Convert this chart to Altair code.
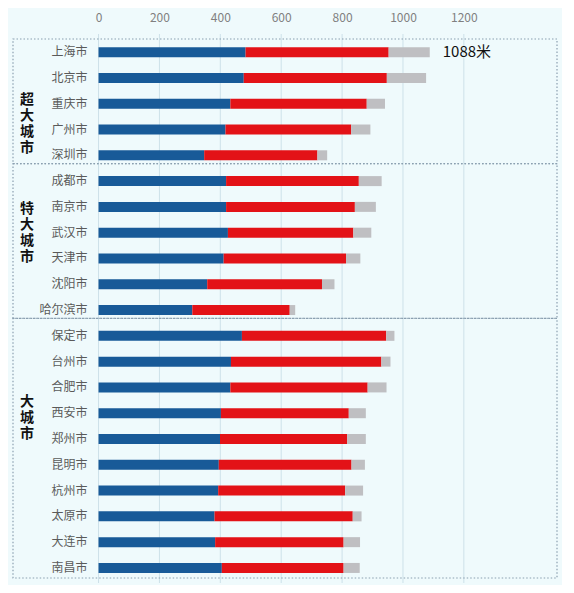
import altair as alt
import pandas as pd

FONT = "Noto Sans CJK SC"

cities = [
    "上海市", "北京市", "重庆市", "广州市", "深圳市",
    "成都市", "南京市", "武汉市", "天津市", "沈阳市", "哈尔滨市",
    "保定市", "台州市", "合肥市", "西安市", "郑州市",
    "昆明市", "杭州市", "太原市", "大连市", "南昌市",
]
groups = ["超大城市"] * 5 + ["特大城市"] * 6 + ["大城市"] * 10

# three stacked parts of each bar (blue, red, grey)
blue_part = [483, 477, 433, 417, 347, 419, 419, 425, 411, 357, 308,
             471, 435, 433, 402, 399, 395, 393, 381, 383, 405]
red_part = [470, 470, 448, 413, 372, 436, 423, 412, 402, 377, 320,
            474, 494, 451, 420, 418, 436, 417, 454, 422, 400]
grey_part = [135, 129, 60, 63, 32, 75, 69, 59, 47, 41, 18,
             27, 30, 62, 56, 61, 44, 59, 29, 54, 53]

segments = ["blue", "red", "grey"]
seg_colors = ["#185a98", "#e31217", "#bfbfc2"]
tick_values = [0, 200, 400, 600, 800, 1000, 1200]

top_label = "1088米"

# layout (row units)
X_DOMAIN = [-281, 1506]
Y_DOMAIN = [-0.51, 20.39]
# row of the first character of each vertical group label
group_label_row = {"超大城市": 1.85, "特大城市": 6.1, "大城市": 13.55}

rows = []
for i, c in enumerate(cities):
    start = 0
    for seg, v in zip(segments, [blue_part[i], red_part[i], grey_part[i]]):
        rows.append({"city": c, "idx": i, "seg": seg,
                     "start": start, "end": start + v})
        start += v
bars_df = pd.DataFrame(rows)

city_df = pd.DataFrame({"city": cities, "idx": list(range(len(cities)))})

# group boxes
box_rows = []
group_names = list(dict.fromkeys(groups))
for k, g in enumerate(group_names):
    first = groups.index(g)
    last = len(groups) - 1 - groups[::-1].index(g)
    top = Y_DOMAIN[0] if k == 0 else first - 0.68
    bottom = Y_DOMAIN[1] if k == len(group_names) - 1 else last + 0.32
    box_rows.append({"group": g, "top": top, "bottom": bottom,
                     "label": "\n".join(list(g)),
                     "mid": group_label_row[g]})
box_df = pd.DataFrame(box_rows)

x_scale = alt.Scale(domain=X_DOMAIN, nice=False, zero=False)
y_scale = alt.Scale(domain=Y_DOMAIN, reverse=True, nice=False, zero=False)

boxes = alt.Chart(box_df).mark_rect(
    fill="transparent", stroke="#8a9fb0", strokeWidth=1.2,
    strokeDash=[1.5, 2]
).encode(
    x=alt.value(0),
    x2=alt.value("width"),
    y=alt.Y("top:Q", scale=y_scale, axis=None),
    y2="bottom:Q",
)

grid = alt.Chart(pd.DataFrame({"v": tick_values})).mark_rule(
    color="#cde1e9", strokeWidth=1
).encode(
    x=alt.X("v:Q", scale=x_scale,
            axis=alt.Axis(orient="top", values=tick_values, title=None,
                          format="d", domain=False, ticks=False, tickSize=0,
                          labelPadding=10, labelColor="#808080",
                          labelFontSize=12, labelFont=FONT, grid=False)),
    y=alt.value(0),
    y2=alt.value("height"),
)

bars = alt.Chart(bars_df).mark_bar(orient="horizontal", height=10).encode(
    x=alt.X("start:Q", scale=x_scale),
    x2="end:Q",
    y=alt.Y("idx:Q", scale=y_scale),
    color=alt.Color("seg:N", scale=alt.Scale(domain=segments, range=seg_colors),
                    legend=None),
)

city_labels = alt.Chart(city_df).mark_text(
    align="right", baseline="middle", dx=-11, fontSize=12,
    color="#5a5a5a", font=FONT
).encode(
    x=alt.datum(0),
    y=alt.Y("idx:Q", scale=y_scale),
    text="city:N",
)

group_labels = alt.Chart(box_df).mark_text(
    align="center", baseline="middle", lineBreak="\n", lineHeight=16,
    fontSize=14, fontWeight="bold", color="#111111", font=FONT
).encode(
    x=alt.value(14),
    y=alt.Y("mid:Q", scale=y_scale),
    text="label:N",
)

top_df = pd.DataFrame({"idx": [0], "total": [blue_part[0] + red_part[0] + grey_part[0]],
                       "label": [top_label]})
annotation = alt.Chart(top_df).mark_text(
    align="left", baseline="middle", dx=13, fontSize=15,
    color="#111111", font=FONT
).encode(
    x=alt.X("total:Q", scale=x_scale),
    y=alt.Y("idx:Q", scale=y_scale),
    text="label:N",
)

chart = alt.layer(
    grid, boxes, bars, city_labels, group_labels, annotation
).properties(
    width=544,
    height=549,
    autosize=alt.AutoSizeParams(type="none"),
    padding={"left": 5, "top": 26, "right": 5, "bottom": 2},
    background="#effafc",
).configure_view(
    stroke=None
)

chart.save("out.html", embed_options={"renderer": "svg", "actions": False})
